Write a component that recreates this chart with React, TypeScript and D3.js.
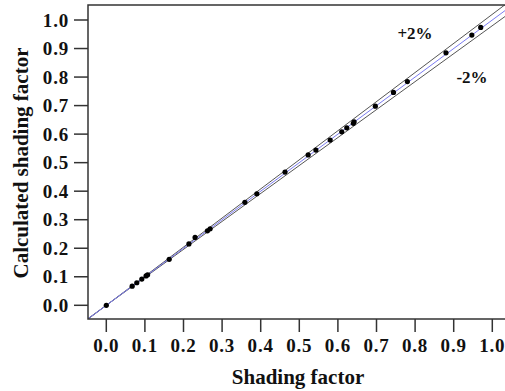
import * as d3 from "d3";

const shadingFactor = [
  0.0, 0.067, 0.079, 0.092, 0.103, 0.107, 0.163, 0.214, 0.23, 0.262, 0.269,
  0.359, 0.39, 0.463, 0.523, 0.543, 0.58, 0.61, 0.623, 0.64, 0.642, 0.697,
  0.744, 0.78, 0.88, 0.947, 0.97,
];
const calculatedFactor = [
  0.0, 0.067, 0.079, 0.092, 0.103, 0.107, 0.161, 0.215, 0.238, 0.261, 0.268,
  0.361, 0.391, 0.467, 0.527, 0.544, 0.579, 0.608, 0.622, 0.638, 0.643, 0.698,
  0.746, 0.784, 0.885, 0.947, 0.974,
];
const ticks = [0, 0.1, 0.2, 0.3, 0.4, 0.5, 0.6, 0.7, 0.8, 0.9, 1.0];
const bandFactors = [1.02, 0.98];

const width = 505;
const height = 391;
const frame = { left: 88, top: 5, right: 512, bottom: 319 };

export default function App() {
  const x = d3.scaleLinear().domain([0, 1]).range([106.3, 492.3]);
  const y = d3.scaleLinear().domain([0, 1]).range([305.3, 20]);

  const lineX = [-0.06, 1.1];
  const line = d3
    .line<number>()
    .x((d) => x(d))
    .y((d) => y(d));
  const bandLine = (k: number) =>
    d3
      .line<number>()
      .x((d) => x(d))
      .y((d) => y(d * k))(lineX) ?? "";

  const font = "'Liberation Serif', 'Times New Roman', serif";
  const axisColor = "#333";

  return (
    <svg
      width={width}
      height={height}
      style={{ position: "absolute", left: 0, top: 0, background: "#fff" }}
      fontFamily={font}
      fontWeight="bold"
      fill="#111"
    >
      <defs>
        <clipPath id="plot">
          <rect
            x={frame.left}
            y={frame.top}
            width={frame.right - frame.left}
            height={frame.bottom - frame.top}
          />
        </clipPath>
      </defs>

      <g clipPath="url(#plot)">
        {bandFactors.map((k) => (
          <path key={k} d={bandLine(k)} fill="none" stroke="#555" strokeWidth={1} />
        ))}
        <path d={line(lineX) ?? ""} fill="none" stroke="#7b7bf0" strokeWidth={1} />
        {shadingFactor.map((d, i) => (
          <circle key={i} cx={x(d)} cy={y(calculatedFactor[i])} r={2.6} fill="#000" />
        ))}
      </g>

      {/* frame */}
      <rect
        x={frame.left}
        y={frame.top}
        width={frame.right - frame.left}
        height={frame.bottom - frame.top}
        fill="none"
        stroke={axisColor}
        strokeWidth={1.5}
      />

      {/* x ticks */}
      {ticks.map((t) => (
        <g key={`x${t}`}>
          <line x1={x(t)} x2={x(t)} y1={frame.bottom} y2={frame.bottom + 13} stroke={axisColor} strokeWidth={1.5} />
          <text x={x(t)} y={352} textAnchor="middle" fontSize={19} letterSpacing={0.8}>
            {t.toFixed(1)}
          </text>
        </g>
      ))}

      {/* y ticks */}
      {ticks.map((t) => (
        <g key={`y${t}`}>
          <line x1={frame.left - 14} x2={frame.left} y1={y(t)} y2={y(t)} stroke={axisColor} strokeWidth={1.5} />
          <text x={69} y={y(t)} dy="0.35em" textAnchor="end" fontSize={19} letterSpacing={0.8}>
            {t.toFixed(1)}
          </text>
        </g>
      ))}

      <text x={298} y={384} textAnchor="middle" fontSize={21}>
        Shading factor
      </text>
      <text
        transform={`translate(28, 163) rotate(-90)`}
        textAnchor="middle"
        fontSize={21}
      >
        Calculated shading factor
      </text>

      <text x={415} y={39} textAnchor="middle" fontSize={17}>
        +2%
      </text>
      <text x={472} y={83} textAnchor="middle" fontSize={17}>
        -2%
      </text>
    </svg>
  );
}
